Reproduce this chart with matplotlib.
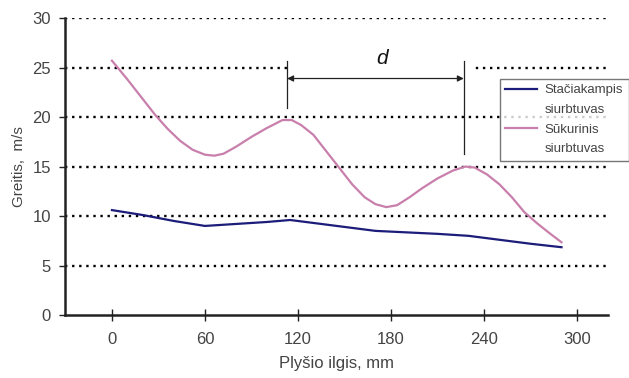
import matplotlib
matplotlib.use("Agg")
import matplotlib.pyplot as plt
from matplotlib.patches import Rectangle

plt.rcParams['font.family'] = ['Liberation Sans', 'DejaVu Sans']

# Data
x_rect = [0, 20, 40, 60, 80, 100, 115, 130, 150, 170, 190, 210, 230, 250, 270, 290]
v_rect = [10.6, 10.1, 9.5, 9.0, 9.2, 9.4, 9.6, 9.3, 8.9, 8.5, 8.35, 8.2, 8.0, 7.6, 7.2, 6.85]

x_vort = [0, 10, 20, 28, 36, 44, 52, 60, 66, 72, 80, 90, 100, 110, 116, 122, 130, 138,
          146, 155, 163, 170, 177, 184, 192, 200, 210, 220, 228, 234, 242, 250, 258,
          266, 274, 282, 290]
v_vort = [25.7, 23.8, 21.8, 20.2, 18.8, 17.6, 16.7, 16.2, 16.1, 16.3, 17.0, 18.0, 18.9,
          19.7, 19.7, 19.2, 18.2, 16.6, 15.0, 13.2, 11.9, 11.2, 10.9, 11.1, 11.9, 12.8,
          13.8, 14.6, 15.0, 14.9, 14.2, 13.2, 11.9, 10.4, 9.3, 8.3, 7.35]

x_ticks = [0, 60, 120, 180, 240, 300]
y_ticks = [0, 5, 10, 15, 20, 25, 30]
labels = ["Stačiakampis\nsiurbtuvas", "Sūkurinis\nsiurbtuvas"]

# dimension annotation (peak positions)
d_x1, d_x2 = 113, 227

txt = '#444444'
fig = plt.figure(figsize=(6.29, 3.78), dpi=100)
ax = fig.add_axes([0.1033, 0.1667, 0.8633, 0.7853])
ax.set_xlim(-30.3, 320)
ax.set_ylim(0, 30)

for y in y_ticks[1:]:
    ax.axhline(y, color='black', lw=1.7, ls=(0, (1, 2.0)), zorder=1)

# white cover behind dimension
ax.add_patch(Rectangle((d_x1 + 1, 22.3), d_x2 - d_x1 + 6, 4.5, facecolor='white',
                       edgecolor='none', zorder=2))

l1, = ax.plot(x_rect, v_rect, color='#1c1c7a', lw=1.6, zorder=3)
l2, = ax.plot(x_vort, v_vort, color='#c97fac', lw=1.6, zorder=3)

ax.plot([d_x1, d_x1], [20.9, 25.7], color='#222222', lw=0.9, zorder=4)
ax.plot([d_x2, d_x2], [16.3, 25.7], color='#222222', lw=0.9, zorder=4)
ax.annotate('', xy=(d_x1, 23.9), xytext=(d_x2, 23.9),
            arrowprops=dict(arrowstyle='<|-|>', color='#222222', lw=0.9,
                            mutation_scale=9, shrinkA=0, shrinkB=0), zorder=4)
ax.text(174, 25.9, 'd', fontsize=15, style='italic',
        ha='center', va='center', color='#111111', zorder=5)

for s in ['top', 'right']:
    ax.spines[s].set_visible(False)
for s in ['left', 'bottom']:
    ax.spines[s].set_linewidth(1.8)
    ax.spines[s].set_color('#222222')

ax.set_xticks(x_ticks)
ax.set_yticks(y_ticks)
ax.tick_params(axis='x', direction='inout', length=8, width=1.0, color='#222222',
               labelsize=12, labelcolor=txt, pad=8)
ax.tick_params(axis='y', direction='out', length=4, width=1.0, color='#222222',
               labelsize=12, labelcolor=txt, pad=6)
ax.set_xlabel('Plyšio ilgis, mm', fontsize=12, color=txt, labelpad=7)
ax.set_ylabel('Greitis,  m/s', fontsize=11, color=txt, labelpad=5)

leg = fig.legend([l1, l2], labels, loc='upper left',
                 bbox_to_anchor=(500 / 629, 1 - 79 / 378), fontsize=9.5,
                 frameon=True, fancybox=False, edgecolor='#555555',
                 handlelength=2.4, borderpad=0.4, labelspacing=0.6,
                 handletextpad=0.6, borderaxespad=0)
leg.get_frame().set_linewidth(1.0)
for t in leg.get_texts():
    t.set_color(txt)
    t.set_linespacing(1.85)
for h in leg.legend_handles:
    yd = h.get_ydata()
    h.set_ydata([v + 8 for v in yd])

fig.savefig('out.png', dpi=100)
